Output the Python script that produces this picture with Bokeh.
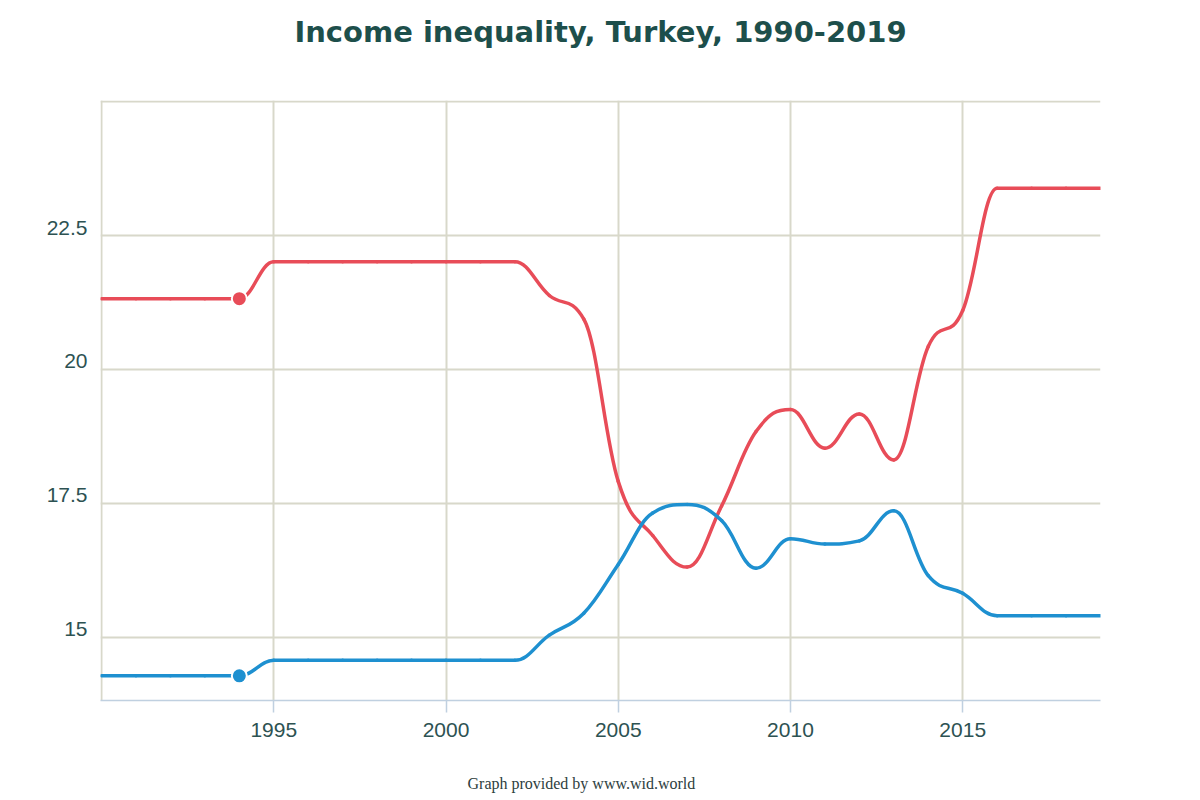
from bokeh.plotting import figure
from bokeh.models import Range1d, FixedTicker, Title, LinearAxis
from bokeh.embed import file_html
from bokeh.resources import INLINE

years = list(range(1990, 2020))
red_values = [21.32, 21.32, 21.32, 21.32, 21.32,
              22.01, 22.01, 22.01, 22.01, 22.01, 22.01, 22.01, 22.01,
              21.38, 20.94, 17.91, 16.90, 16.31, 17.45, 18.84, 19.25,
              18.53, 19.17, 18.31, 20.43, 21.10, 23.38, 23.38, 23.38, 23.38]
blue_values = [14.28, 14.28, 14.28, 14.28, 14.28,
               14.57, 14.57, 14.57, 14.57, 14.57, 14.57, 14.57, 14.57,
               15.04, 15.45, 16.36, 17.32, 17.48, 17.18, 16.29, 16.84,
               16.74, 16.80, 17.36, 16.15, 15.82, 15.40, 15.40, 15.40, 15.40]
marker_year = 1994
x_ticks = [1995, 2000, 2005, 2010, 2015]
x_grid = [1990, 1995, 2000, 2005, 2010, 2015]
y_ticks = [15, 17.5, 20, 22.5]
y_tick_labels = {15: "15", 17.5: "17.5", 20: "20", 22.5: "22.5"}
y_grid = [15, 17.5, 20, 22.5, 25]
title_text = "Income inequality, Turkey, 1990-2019"
footer_text = "Graph provided by www.wid.world"

RED = "#e84c58"
BLUE = "#1e90d0"
GRID = "#d8d8ca"
TXT = "#2d5252"

X0, X1 = 1989.97, 2019.0
Y0, Y1 = 13.82, 25.02
FW, FH = 1000, 600


def spline_segments(xs, ys, smoothing=1.5):
    denom = smoothing + 1
    n = len(xs)
    lc = [(xs[i], ys[i]) for i in range(n)]
    rc = [(xs[i], ys[i]) for i in range(n)]
    for i in range(1, n - 1):
        px, py = xs[i], ys[i]
        lx, ly = xs[i - 1], ys[i - 1]
        nx, ny = xs[i + 1], ys[i + 1]
        lcx = (smoothing * px + lx) / denom
        lcy = (smoothing * py + ly) / denom
        rcx = (smoothing * px + nx) / denom
        rcy = (smoothing * py + ny) / denom
        if rcx != lcx:
            corr = ((rcy - lcy) * (rcx - px)) / (rcx - lcx) + py - rcy
            lcy += corr
            rcy += corr
        if lcy > ly and lcy > py:
            lcy = max(ly, py)
            rcy = 2 * py - lcy
        elif lcy < ly and lcy < py:
            lcy = min(ly, py)
            rcy = 2 * py - lcy
        if rcy > ny and rcy > py:
            rcy = max(ny, py)
            lcy = 2 * py - rcy
        elif rcy < ny and rcy < py:
            rcy = min(ny, py)
            lcy = 2 * py - rcy
        lc[i] = (lcx, lcy)
        rc[i] = (rcx, rcy)
    seg = dict(x0=[], y0=[], x1=[], y1=[], cx0=[], cy0=[], cx1=[], cy1=[])
    for i in range(1, n):
        seg["x0"].append(xs[i - 1]); seg["y0"].append(ys[i - 1])
        seg["x1"].append(xs[i]); seg["y1"].append(ys[i])
        seg["cx0"].append(rc[i - 1][0]); seg["cy0"].append(rc[i - 1][1])
        seg["cx1"].append(lc[i][0]); seg["cy1"].append(lc[i][1])
    return seg


p = figure(width=1200, height=800, frame_width=FW, frame_height=FH,
           x_range=Range1d(X0, X1), y_range=Range1d(Y0, Y1), title=None,
           output_backend="svg", toolbar_location=None,
           min_border_left=100, min_border_right=100,
           min_border_top=100, min_border_bottom=100)
p.background_fill_color = "white"
p.border_fill_color = "white"
p.outline_line_color = None

# blank spacer panel between frame and title, then the title (outermost)
p.add_layout(Title(text=" ", text_font_size="10px", text_color="white",
                   standoff=35), "above")
p.add_layout(Title(text=title_text, align="center", vertical_align="top",
                   text_font="DejaVu Sans", text_font_size="29px",
                   text_font_style="bold", text_color="#1d4f4b",
                   standoff=4), "above")

# x axis
xa = p.xaxis[0]
xa.ticker = FixedTicker(ticks=x_ticks)
xa.axis_line_color = "#c0d0e0"
xa.axis_line_width = 1.5
xa.major_tick_line_color = "#c0d0e0"
xa.major_tick_line_width = 1.5
xa.major_tick_out = 12
xa.major_tick_in = 0
xa.minor_tick_line_color = None
xa.major_label_text_font = "Liberation Sans"
xa.major_label_text_font_size = "21px"
xa.major_label_text_color = TXT
xa.major_label_standoff = 10

# blank spacer below the axis, then the footer
p.add_layout(Title(text=" ", text_font_size="10px", text_color="white",
                   standoff=15), "below")
p.add_layout(Title(text=footer_text, align="left", vertical_align="bottom",
                   text_font="Liberation Serif", text_font_size="16px",
                   text_font_style="normal", text_color="#2d4040",
                   offset=367, standoff=10), "below")

# y axis: labels sit a little above their grid lines (shifted label range)
p.yaxis.visible = False
px_y = FH / (Y1 - Y0)
shift = 8 / px_y
p.extra_y_ranges = {"labels": Range1d(Y0 - shift, Y1 - shift)}
ya = LinearAxis(y_range_name="labels", ticker=FixedTicker(ticks=y_ticks),
                major_label_overrides=y_tick_labels)
ya.axis_line_color = None
ya.major_tick_line_color = None
ya.minor_tick_line_color = None
ya.major_label_text_font = "Liberation Sans"
ya.major_label_text_font_size = "21px"
ya.major_label_text_color = TXT
ya.major_label_standoff = 7
p.add_layout(ya, "left")

p.xgrid[0].ticker = FixedTicker(ticks=x_grid)
p.ygrid[0].ticker = FixedTicker(ticks=y_grid)
p.xgrid.grid_line_color = GRID
p.ygrid.grid_line_color = GRID
p.xgrid.grid_line_width = 2
p.ygrid.grid_line_width = 2

for vals, col in ((red_values, RED), (blue_values, BLUE)):
    seg = spline_segments(years, vals)
    p.bezier(x0="x0", y0="y0", x1="x1", y1="y1", cx0="cx0", cy0="cy0",
             cx1="cx1", cy1="cy1", source=seg, line_color=col,
             line_width=3.5, line_cap="round")
    mi = years.index(marker_year)
    p.scatter([years[mi]], [vals[mi]], size=15, fill_color=col,
              line_color="white", line_width=2)

open("out.html", "w").write(file_html(p, INLINE))
